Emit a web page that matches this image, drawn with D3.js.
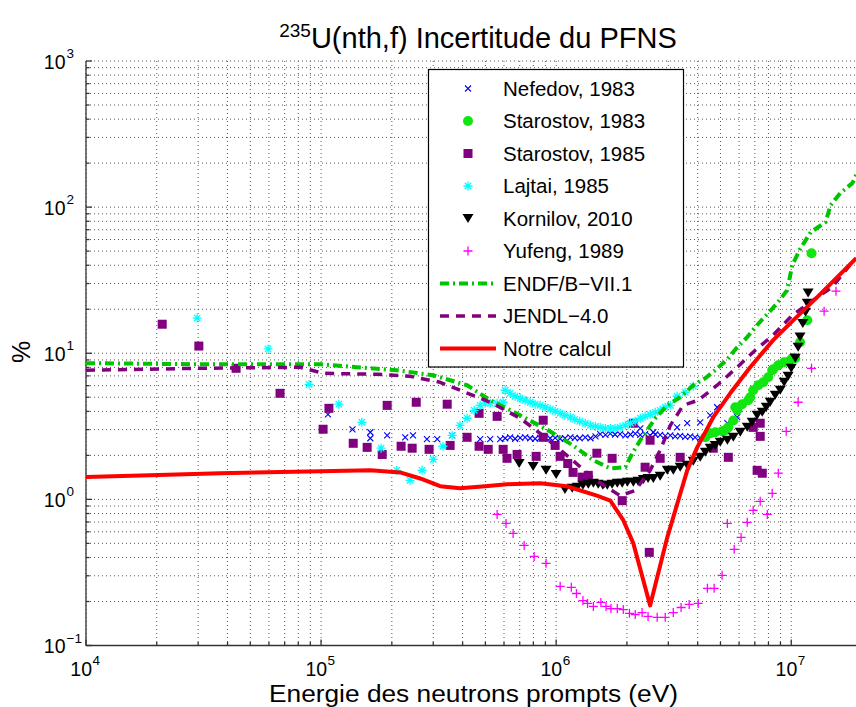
<!DOCTYPE html>
<html>
<head>
<meta charset="utf-8">
<script src="https://cdn.jsdelivr.net/npm/d3@7"></script>
<style>
  body { margin: 0; background: #fff; }
  text { font-family: "Liberation Sans", Arial, Helvetica, sans-serif; fill: #000; }
</style>
</head>
<body>
<svg id="chart" width="856" height="707"></svg>
<script>
// ---- tick labels (powers of ten) ----
const xTickExps = [4, 5, 6, 7];
const yTickExps = [-1, 0, 1, 2, 3];

// ---- Nefedov, 1983 (eV, %) ----
const nefedovE = [1.07e5,1.36e5,1.62e5,1.62e5,1.91e5,2.28e5,2.46e5,2.82e5,3.12e5,3.61e5,4.75e5,5.24e5,5.78e5,
  6.07e5,6.37e5,6.69e5,7.03e5,7.38e5,7.75e5,8.14e5,8.55e5,8.98e5,9.43e5,9.90e5,1.04e6,1.09e6,1.15e6,1.20e6,1.26e6,1.33e6,1.40e6,1.47e6,
  1.54e6,1.62e6,1.70e6,1.78e6,1.87e6,1.97e6,2.07e6,2.17e6,2.28e6,2.39e6,2.51e6,2.64e6,2.77e6,2.91e6,3.06e6,3.21e6,3.37e6,3.54e6,3.72e6,3.90e6,4.10e6,
  2.28e6,2.59e6,3.27e6,3.61e6,4.10e6,4.52e6,4.84e6,5.35e6,5.89e6];
const nefedovU = [3.82,3.01,2.88,2.62,2.74,2.66,2.74,2.58,2.58,2.74,2.58,2.58,2.58,
  2.62,2.66,2.60,2.64,2.66,2.62,2.60,2.64,2.66,2.62,2.64,2.60,2.62,2.66,2.64,2.62,2.66,2.62,2.70,
  2.80,2.76,2.82,2.78,2.80,2.74,2.78,2.82,2.76,2.80,2.74,2.78,2.76,2.72,2.74,2.70,2.72,2.68,2.70,2.66,2.64,
  3.06,2.88,3.11,3.32,3.37,3.76,4.27,3.32,3.65];

// ---- Starostov, 1983 ----
const starostov83E = [4.31e6,4.52e6,4.75e6,5.09e6,5.24e6,5.40e6,5.67e6,5.78e6,5.89e6,6.18e6,6.56e6,6.69e6,6.89e6,7.24e6,7.60e6,7.98e6,8.30e6,8.38e6,8.81e6,9.33e6,
  9.80e6,1.01e7,1.04e7,1.09e7,1.17e7,1.22e7];
const starostov83U = [2.66,2.83,2.88,2.93,2.97,3.11,3.47,4.27,4.07,4.48,4.77,5.0,5.58,6.04,6.33,6.85,7.65,7.77,8.28,8.67,
  8.81,9.24,9.24,11.9,16.8,48.4];

// ---- Starostov, 1985 ----
const starostov85E = [2.11e4,3.02e4,4.35e4,6.69e4,1.02e5,1.08e5,1.37e5,1.57e5,1.82e5,1.91e5,2.19e5,2.44e5,2.54e5,2.88e5,3.44e5,3.54e5,4.18e5,4.70e5,4.70e5,
  5.14e5,5.61e5,5.95e5,6.18e5,6.82e5,8.22e5,8.81e5,8.81e5,9.90e5,1.04e6,1.12e6,1.18e6,1.29e6,1.37e6,1.49e6,1.73e6,1.91e6,2.13e6,2.39e6,2.49e6,2.51e6,
  2.77e6,3.37e6,4.66e6,5.40e6,6.89e6,7.38e6,7.38e6,7.16e6,7.53e6];
const starostov85U = [15.8,11.2,7.89,5.32,3.02,4.20,2.42,2.27,2.03,4.40,2.31,2.24,4.62,2.20,4.48,2.34,2.66,3.88,2.31,
  2.20,3.70,2.20,1.91,2.03,1.97,3.48,2.66,2.34,1.97,1.76,1.53,1.42,1.46,2.07,1.91,0.98,3.32,1.66,0.434,2.54,
  1.91,1.94,2.24,1.94,3.11,3.32,2.70,1.58,1.51];

// ---- Lajtai, 1985 ----
const lajtaiE = [2.97e4,5.95e4,8.89e4,1.19e5,1.49e5,1.80e5,2.10e5,2.39e5,2.69e5,3.00e5,3.30e5,3.61e5,3.90e5,4.18e5,4.48e5,4.75e5,4.99e5,5.24e5,5.61e5,5.95e5,6.07e5,
  6.37e5,6.69e5,7.03e5,7.38e5,7.75e5,8.14e5,8.55e5,8.98e5,9.43e5,9.90e5,1.04e6,1.09e6,1.15e6,1.20e6,1.26e6,1.33e6,1.40e6,1.47e6,1.54e6,1.62e6,1.70e6,
  1.78e6,1.87e6,1.97e6,2.07e6,2.17e6,2.28e6,2.39e6,2.51e6,2.64e6,2.77e6,2.91e6,3.06e6,3.27e6,3.54e6,3.83e6];
const lajtaiU = [17.4,10.7,6.13,4.48,3.37,2.24,1.58,1.35,1.58,1.88,2.31,2.74,3.21,3.59,4.07,4.40,4.55,4.55,4.55,4.62,5.58,
  5.32,5.08,4.92,4.77,4.62,4.48,4.40,4.27,4.13,4.01,3.88,3.76,3.65,3.53,3.42,3.32,3.21,3.16,3.11,3.06,3.06,
  3.06,3.11,3.21,3.32,3.42,3.59,3.70,3.82,3.94,4.07,4.27,4.40,5.08,5.41,5.94];

// ---- Kornilov, 2010 ----
const kornilovE = [6.96e5,7.98e5,9.06e5,1.00e6,1.09e6,1.17e6,1.23e6,1.30e6,1.37e6,1.44e6,1.51e6,1.58e6,1.65e6,1.73e6,1.82e6,1.91e6,2.01e6,2.13e6,2.23e6,2.35e6,
  2.46e6,2.59e6,2.77e6,2.97e6,3.15e6,3.37e6,3.61e6,3.83e6,4.10e6,4.31e6,4.52e6,4.75e6,4.99e6,5.35e6,5.67e6,6.07e6,6.50e6,6.82e6,7.16e6,7.53e6,
  7.83e6,8.14e6,8.55e6,8.98e6,9.33e6,9.70e6,1.00e7,1.04e7,1.07e7,1.09e7,1.12e7,1.15e7,1.17e7,1.18e7];
const kornilovU = [1.76,1.68,1.58,1.48,1.17,1.19,1.21,1.25,1.27,1.29,1.27,1.25,1.25,1.27,1.29,1.29,1.31,1.31,1.33,1.37,
  1.39,1.39,1.44,1.58,1.58,1.66,1.71,1.82,1.94,2.10,2.24,2.34,2.46,2.54,2.66,2.88,3.11,3.37,3.76,3.94,
  4.27,4.62,5.15,5.58,6.33,6.95,7.89,9.24,11.0,12.9,16.0,19.1,22.0,25.8];

// ---- Yufeng, 1989 ----
const yufengE = [5.61e5,6.12e5,6.56e5,7.31e5,8.06e5,9.06e5,1.04e6,1.16e6,1.22e6,1.30e6,1.36e6,1.44e6,1.55e6,1.63e6,1.71e6,1.82e6,1.93e6,2.05e6,2.17e6,2.32e6,
  2.46e6,2.69e6,2.91e6,3.15e6,3.40e6,3.68e6,4.02e6,4.40e6,4.70e6,5.08e6,5.35e6,5.72e6,6.12e6,6.50e6,6.89e6,7.38e6,7.91e6,8.30e6,8.81e6,9.52e6,
  1.07e7,1.22e7,1.38e7,1.55e7];
const yufengU = [0.789,0.685,0.585,0.484,0.407,0.365,0.254,0.250,0.227,0.203,0.194,0.185,0.197,0.185,0.179,0.179,0.176,0.166,0.163,0.168,
  0.158,0.156,0.156,0.168,0.182,0.191,0.194,0.246,0.246,0.302,0.685,0.455,0.549,0.696,0.841,0.969,0.789,1.10,1.51,2.92,
  4.62,7.89,19.4,26.6];

// ---- ENDF/B-VII.1 ----
const endfE = [1e4,3.06e4,1e5,1.42e5,2.10e5,3.0e5,4.18e5,5.24e5,7.03e5,9.25e5,1.18e6,1.44e6,1.70e6,1.97e6,2.11e6,2.28e6,2.64e6,2.97e6,3.37e6,3.83e6,
  4.31e6,4.75e6,5.35e6,5.89e6,6.50e6,7.16e6,7.90e6,8.72e6,9.61e6,1.01e7,1.09e7,1.21e7,1.40e7,1.47e7,1.62e7,1.82e7,1.89e7];
const endfU = [8.55,8.41,8.41,8.02,7.65,7.07,6.04,4.77,3.76,2.97,2.34,1.85,1.63,1.66,2.07,2.54,3.59,4.40,5.0,6.04,
  6.75,7.65,9.1,11.0,12.9,15.6,18.5,22.0,27.0,40.1,51.5,67.4,78.9,103,125,146,166];

// ---- JENDL-4.0 ----
const jendlE = [1e4,3.06e4,8.15e4,1.02e5,1.73e5,2.39e5,3.21e5,4.10e5,5.24e5,7.03e5,8.98e5,1.15e6,1.44e6,1.87e6,2.17e6,2.51e6,2.77e6,3.06e6,3.47e6,4.02e6,
  4.84e6,5.89e6,7.03e6,8.38e6,1.01e7,1.24e7,1.49e7,1.82e7];
const jendlU = [7.65,7.89,8.02,7.29,7.18,6.95,6.33,5.41,4.62,3.59,2.66,1.91,1.39,1.06,1.15,1.58,2.17,3.21,4.40,4.77,
  6.04,8.02,10.5,13.3,18.2,23.1,28.3,42.0];

// ---- Notre calcul ----
const calcE = [1e4,1.87e4,3.72e4,1e5,1.62e5,2.17e5,2.64e5,3.21e5,3.90e5,4.99e5,6.18e5,8.55e5,1.11e6,1.49e6,1.70e6,1.93e6,2.13e6,2.51e6,2.97e6,3.61e6,
  3.98e6,4.66e6,5.50e6,6.69e6,8.38e6,1.02e7,1.29e7,1.57e7,1.89e7];
const calcU = [1.42,1.46,1.51,1.56,1.58,1.53,1.39,1.23,1.19,1.23,1.27,1.29,1.23,1.06,0.98,0.72,0.50,0.188,0.55,1.58,
  2.27,3.65,5.32,8.02,12.3,16.8,24.2,33.2,44.8];

const legendLabels = ["Nefedov, 1983","Starostov, 1983","Starostov, 1985","Lajtai, 1985","Kornilov, 2010",
  "Yufeng, 1989","ENDF/B\u2212VII.1","JENDL\u22124.0","Notre calcul"];

// ---- layout ----
const svg = d3.select("#chart");
const pL = 86, pR = 862, pT = 61, pB = 645.5;
const x = d3.scaleLog().domain([1e4, 2e7]).range([pL, pR]);
const y = d3.scaleLog().domain([0.1, 1000]).range([pB, pT]);

const zip = (a, b) => a.map((v, i) => [v, b[i]]);

svg.append("defs").append("clipPath").attr("id", "plotclip")
  .append("rect").attr("x", pL).attr("y", pT - 6).attr("width", pR - pL).attr("height", pB - pT + 12);

// grid (dotted, at every decade multiple)
const grid = svg.append("g").attr("stroke", "#222").attr("stroke-width", 1)
  .attr("stroke-dasharray", "1,3").attr("opacity", 0.75);
x.ticks().forEach(t => {
  grid.append("line").attr("x1", x(t)).attr("x2", x(t)).attr("y1", pT).attr("y2", pB);
});
y.ticks().forEach(t => {
  grid.append("line").attr("x1", pL).attr("x2", pR).attr("y1", y(t)).attr("y2", y(t));
});

// axis lines and inward ticks
const ax = svg.append("g").attr("stroke", "#333").attr("stroke-width", 1.3);
ax.append("line").attr("x1", pL).attr("x2", pL).attr("y1", pT).attr("y2", pB);
ax.append("line").attr("x1", pL).attr("x2", pR).attr("y1", pB).attr("y2", pB);
const isMajor = v => Math.abs(Math.log10(v) - Math.round(Math.log10(v))) < 1e-9;
x.ticks().forEach(t => {
  const L = isMajor(t) ? 6 : 3.5;
  ax.append("line").attr("x1", x(t)).attr("x2", x(t)).attr("y1", pB).attr("y2", pB - L);
});
y.ticks().forEach(t => {
  const L = isMajor(t) ? 6 : 3.5;
  ax.append("line").attr("x1", pL).attr("x2", pL + L).attr("y1", y(t)).attr("y2", y(t));
});

// tick labels: "10" plus a raised exponent
const sup = e => (e < 0 ? "\u2212" + Math.abs(e) : String(e));
xTickExps.forEach(e => {
  const xx = x(Math.pow(10, e));
  svg.append("text").attr("x", xx + 6).attr("y", 675.5).attr("text-anchor", "end")
    .attr("font-size", 19.5).text("10");
  svg.append("text").attr("x", xx + 6.5).attr("y", 664.5).attr("text-anchor", "start")
    .attr("font-size", 13.5).text(sup(e));
});
yTickExps.forEach(e => {
  const yy = y(Math.pow(10, e));
  svg.append("text").attr("x", 65.5).attr("y", yy + 7.5).attr("text-anchor", "end")
    .attr("font-size", 19.5).text("10");
  svg.append("text").attr("x", 66.5).attr("y", yy - 3).attr("text-anchor", "start")
    .attr("font-size", 13.5).text(sup(e));
});

// titles
const title = svg.append("text").attr("x", 478).attr("y", 48).attr("text-anchor", "middle").attr("font-size", 29);
title.append("tspan").attr("font-size", 19).attr("dy", -11).text("235");
title.append("tspan").attr("dy", 11).text("U(nth,f) Incertitude du PFNS");
svg.append("text").attr("x", 269).attr("y", 702).attr("font-size", 23.5)
  .attr("textLength", 409).attr("lengthAdjust", "spacingAndGlyphs")
  .text("Energie des neutrons prompts (eV)");
svg.append("text").attr("transform", "translate(30,352) rotate(-90)").attr("text-anchor", "middle")
  .attr("font-size", 25).text("%");

// marker shapes
const markers = {
  cross: (g, c) => g.append("path").attr("d", "M-3,-3L3,3M-3,3L3,-3").attr("stroke", c).attr("stroke-width", 1.1).attr("fill", "none"),
  circle: (g, c) => g.append("circle").attr("r", 5).attr("fill", c),
  square: (g, c) => g.append("rect").attr("x", -4.5).attr("y", -4.5).attr("width", 9).attr("height", 9).attr("fill", c),
  star: (g, c) => g.append("path").attr("d", "M-4.5,0H4.5M0,-4.5V4.5M-3.2,-3.2L3.2,3.2M-3.2,3.2L3.2,-3.2").attr("stroke", c).attr("stroke-width", 1.3).attr("fill", "none"),
  tri: (g, c) => g.append("path").attr("d", "M-5.5,-4.5L5.5,-4.5L0,4.5Z").attr("fill", c),
  plus: (g, c) => g.append("path").attr("d", "M-4.5,0H4.5M0,-4.5V4.5").attr("stroke", c).attr("stroke-width", 1.3).attr("fill", "none")
};

const plot = svg.append("g").attr("clip-path", "url(#plotclip)");
function scatter(E, U, shape, color) {
  const g = plot.append("g");
  zip(E, U).forEach(([e, u]) => {
    markers[shape](g.append("g").attr("transform", `translate(${x(e)},${y(u)})`), color);
  });
}
const lineGen = d3.line().x(d => x(d[0])).y(d => y(d[1]));
function curve(E, U, color, width, dash) {
  plot.append("path").datum(zip(E, U)).attr("d", lineGen).attr("fill", "none")
    .attr("stroke", color).attr("stroke-width", width).attr("stroke-dasharray", dash)
    .attr("stroke-linejoin", "round");
}

const cBlue = "#0000ff", cGreenDot = "#10e610", cPurple = "#800080", cCyan = "#00ffff",
      cMag = "#ff00ff", cEndf = "#00c400", cRed = "#ff0000";

scatter(nefedovE, nefedovU, "cross", cBlue);
scatter(starostov83E, starostov83U, "circle", cGreenDot);
scatter(starostov85E, starostov85U, "square", cPurple);
scatter(lajtaiE, lajtaiU, "star", cCyan);
scatter(kornilovE, kornilovU, "tri", "#000");
scatter(yufengE, yufengU, "plus", cMag);
curve(endfE, endfU, cEndf, 4, "9,4,2,4");
curve(jendlE, jendlU, cPurple, 3.5, "9,7");
curve(calcE, calcU, cRed, 4, null);

// legend
const lg = svg.append("g");
lg.append("rect").attr("x", 428.5).attr("y", 69.5).attr("width", 255).attr("height", 297.5)
  .attr("fill", "#fff").attr("stroke", "#000").attr("stroke-width", 1.2);
const legendStyles = [
  {m: "cross", c: cBlue}, {m: "circle", c: cGreenDot}, {m: "square", c: cPurple}, {m: "star", c: cCyan},
  {m: "tri", c: "#000"}, {m: "plus", c: cMag},
  {l: cEndf, w: 4, d: "9,4,2,4"}, {l: cPurple, w: 3.5, d: "9,7"}, {l: cRed, w: 4, d: null}
];
legendLabels.forEach((lab, i) => {
  const cy = 88.5 + i * 32.5;
  const s = legendStyles[i];
  if (s.m) {
    markers[s.m](lg.append("g").attr("transform", `translate(468,${cy})`), s.c);
  } else {
    lg.append("line").attr("x1", 440).attr("x2", 496).attr("y1", cy).attr("y2", cy)
      .attr("stroke", s.l).attr("stroke-width", s.w).attr("stroke-dasharray", s.d);
  }
  lg.append("text").attr("x", 503).attr("y", cy + 7).attr("font-size", 20.5).text(lab);
});
</script>
</body>
</html>
